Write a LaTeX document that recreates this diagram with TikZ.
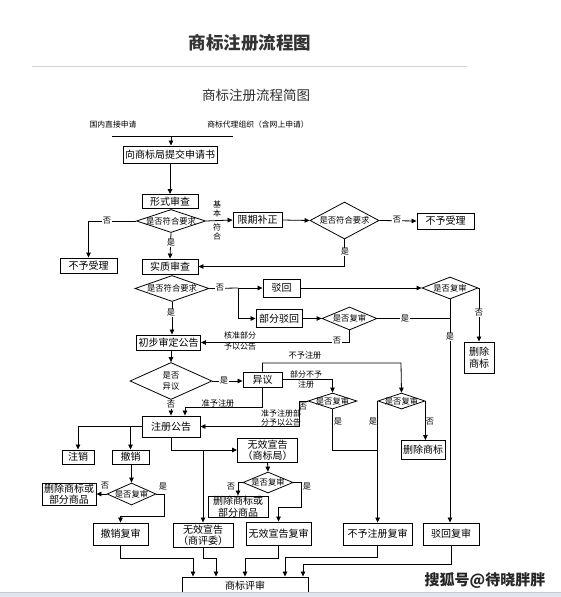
\documentclass[tikz,border=0pt]{standalone}
\usepackage{fontspec}
\setmainfont{Noto Sans CJK SC}
\usetikzlibrary{shapes.geometric,arrows.meta}
\definecolor{titlec}{HTML}{333333}
\definecolor{rulec}{HTML}{D6D6D6}
\definecolor{stripc}{HTML}{E1E6EC}
\definecolor{stripl}{HTML}{C5CCD4}
\tikzset{
  wh/.style 2 args={minimum width=#1, minimum height=#2},
  box/.style={draw, line width=0.9pt, inner sep=0pt, align=center, font=\fontsize{10}{11.5}\selectfont},
  dia/.style={draw, diamond, inner sep=0pt, line width=0.8pt, font=\fontsize{8.3}{9.5}\selectfont},
  lbl/.style={inner sep=0.5pt, align=center, font=\fontsize{8.2}{9.5}\selectfont},
  onl/.style={lbl, fill=white},
  ln/.style={line width=0.8pt},
  arr/.style={ln, -{Triangle[length=5pt,width=4.5pt]}}
}
\begin{document}
\begin{tikzpicture}[x=1pt,y=-1pt]
\useasboundingbox (0,0) rectangle (561,597);
% titles
\node[text=titlec, font=\fontsize{17.5}{20}\selectfont\bfseries] (title) at (250,43) {商标注册流程图};
\draw[rulec, line width=1pt] (32,66) -- (467,66);
\node[text=titlec!90!black, font=\fontsize{13.5}{15}\selectfont] (sub) at (256,95) {商标注册流程简图};
% sources
\node[lbl, font=\fontsize{7.8}{9}\selectfont] (src1) at (113,125) {国内直接申请};
\node[lbl, font=\fontsize{7.8}{9}\selectfont] (src2) at (258,125) {商标代理组织（含网上申请）};
\coordinate (hl) at (112,136); \coordinate (hr) at (233,136); \coordinate (hm) at (171,136);
% nodes
\node[box, wh={94}{17}] (submit) at (170,154.5) {向商标局提交申请书};
\node[box, wh={56}{14}] (formal) at (170,201.5) {形式审查};
\node[dia, wh={69}{23}] (d1) at (171,221) {\makebox[0pt]{是否符合要求}};
\node[box, wh={57}{15}] (reject1) at (88.5,265.5) {不予受理};
\node[box, wh={56}{15}] (subst) at (170,266.5) {实质审查};
\node[box, wh={49}{15}] (correct) at (257.5,220) {限期补正};
\node[dia, wh={69}{37}] (d2) at (344.5,220.5) {\makebox[0pt]{是否符合要求}};
\node[box, wh={57}{16}] (reject2) at (445.5,221) {不予受理};
\node[dia, wh={74}{26}] (d3) at (172,288.5) {\makebox[0pt]{是否符合要求}};
\node[box, wh={37}{18}] (refuse) at (281.5,288) {驳回};
\node[box, wh={46}{18}] (partial) at (279,318.5) {部分驳回};
\node[dia, wh={55}{23}] (d4) at (349.5,318.5) {\makebox[0pt]{是否复审}};
\node[dia, wh={56}{22}] (d5) at (450,288) {\makebox[0pt]{是否复审}};
\node[box, wh={30}{31}, font=\fontsize{10}{12}\selectfont] (del1) at (479,357.5) {删除\\商标};
\node[box, wh={64}{15}] (prelim) at (168.5,342.5) {初步审定公告};
\node[dia, wh={82}{37}] (d6) at (171,381) {\makebox[0pt]{\shortstack{是否\\[1pt]异议}}};
\node[box, wh={39}{15}] (objection) at (262.5,379.5) {异议};
\node[dia, wh={49}{16}] (d7) at (332.5,401) {\makebox[0pt]{是否复审}};
\node[dia, wh={47}{16}] (d8) at (401.5,401) {\makebox[0pt]{是否复审}};
\node[box, wh={44}{19}] (del2) at (423,450) {删除商标};
\node[box, wh={58}{21}] (reg) at (171,426.5) {注册公告};
\node[box, wh={32}{14}] (cancel) at (78,457) {注销};
\node[box, wh={37}{14}] (revoke) at (130.5,457) {撤销};
\node[dia, wh={49}{22}] (d9) at (131.5,494) {\makebox[0pt]{是否复审}};
\node[box, wh={54}{22}] (del3) at (69,494) {删除商标或\\部分商品};
\node[box, wh={55}{22}] (revrev) at (120.5,534) {撤销复审};
\node[box, wh={60}{24}] (inv1) at (267.5,450) {无效宣告\\（商标局）};
\node[dia, wh={50}{21}] (d10) at (268,482.5) {\makebox[0pt]{是否复审}};
\node[box, wh={60}{21}, fill=white] (del4) at (238,506.5) {删除商标或\\部分商品};
\node[box, wh={65}{23}] (invrev) at (278.5,533.5) {无效宣告复审};
\node[box, wh={60}{24}] (inv2) at (203,535) {无效宣告\\（商评委）};
\node[box, wh={69}{22}] (nreg) at (377.5,534) {不予注册复审};
\node[box, wh={56}{22}] (refrev) at (451,534) {驳回复审};
\node[box, wh={126}{18}] (board) at (245,586) {商标评审};
% coordinates
\coordinate (j1) at (238,288);
\coordinate (j2) at (401,363);
\coordinate (j3) at (185,407);
\coordinate (j4) at (299,401);
\coordinate (j5) at (378,450);
\coordinate (j6) at (78,426.5);
\coordinate (j7) at (164,516);
\coordinate (j9) at (203,450);
\coordinate (j10) at (301,507);
\coordinate (b1) at (193,558);
\coordinate (b2) at (216,558);
\coordinate (b3) at (245,558);
\coordinate (b4) at (285,557);
\coordinate (b5) at (303,564);
% connectors
\draw[ln] (hl) -- (hr);
\draw[arr] (hm) -- (hm |- submit.north);
\draw[arr] (submit) -- (formal);
\draw[arr] (d1.west) -| (reject1.north);
\draw[arr] (d1.south) -- (subst.north);
\draw[arr] (d1.east) -- (correct.west);
\draw[arr] (correct.east) -- (d2.west);
\draw[arr] (d2.east) -- (reject2.west);
\draw[arr] (d2.south) |- (subst.east);
\draw[ln] (d3.east) -- (j1);
\draw[arr] (j1) -- (refuse.west);
\draw[arr] (j1) |- (partial.west);
\draw[arr] (partial.east) -- (d4.west);
\draw[arr] (refuse.east) -- (d5.west);
\draw[arr] (d5.east) -| (del1.north);
\draw[arr] (d4.south) |- (prelim.east);
\draw[ln] (d4.east) -- (d4.east -| d5.south);
\draw[arr] (d5.south) -- (d5.south |- refrev.north);
\draw[arr] (d3.south) -- (d3.south |- prelim.north);
\draw[arr] (d6.north |- prelim.south) -- (d6.north);
\draw[arr] (d6.east) -- (d6.east -| objection.west);
\draw[arr] (objection.north) |- (j2) -- (d8.north);
\draw[arr] (objection.east) -| (d7.north);
\draw[arr] (objection.south) |- (j3) -- (j3 |- reg.north);
\draw[arr] (d6.south) -- (d6.south |- reg.north);
\draw[arr] (d7.west) -- (j4) |- (reg.east);
\draw[ln] (d7.south) |- (j5);
\draw[arr] (d8.west) -- (d8.west |- nreg.north);
\draw[arr] (d8.east) -- (d8.east |- del2.north);
\draw[ln] (reg.west) -- (j6);
\draw[arr] (j6) -- (cancel.north);
\draw[arr] (reg.west -| revoke.north) -- (revoke.north);
\draw[arr] (d9.north |- revoke.south) -- (d9.north);
\draw[arr] (d9.west) -- (del3.east);
\draw[arr] (d9.east) -| (j7) -| (revrev.north);
\draw[arr] (reg.south) |- (inv1.west);
\draw[arr] (j9) -- (inv2.north);
\draw[arr] (inv1.south) -- (d10.north);
\draw[arr] (d10.west) -| (del4.north);
\draw[arr] (d10.east) -| (j10) -| (invrev.north);
\draw[arr] (revrev.south) |- (b1) -- (b1 |- board.north);
\draw[arr] (inv2.south) |- (b2) -- (b2 |- board.north);
\draw[arr] (invrev.south) |- (b3) -- (b3 |- board.north);
\draw[arr] (nreg.south) |- (b4) -- (b4 |- board.north);
\draw[arr] (refrev.south) |- (b5) -- (b5 |- board.north);
% labels
\node[onl] (l1) at (107,221) {否};
\node[onl] (l2) at (171,243) {是};
\node[onl, font=\fontsize{8}{9}\selectfont] (l3a) at (217,209) {基\\本};
\node[onl, font=\fontsize{8}{9}\selectfont] (l3b) at (217,232) {符\\合};
\node[onl] (l4) at (397,220) {否};
\node[onl] (l5) at (345,252) {是};
\node[onl] (l6) at (220,288) {否};
\node[onl] (l7) at (171,313) {是};
\node[onl] (l8) at (337,341) {否};
\node[onl] (l9) at (405,318.5) {是};
\node[onl] (l10) at (479,313) {否};
\node[onl] (l11) at (450,337) {是};
\node[lbl, font=\fontsize{8}{10.5}\selectfont] (l12) at (240,341) {核准部分\\予以公告};
\node[onl] (l13) at (224,381) {是};
\node[onl] (l14) at (171,405) {否};
\node[lbl] (l15) at (305,355) {不予注册};
\node[lbl, font=\fontsize{8}{10.5}\selectfont] (l16) at (306,379.5) {部分不予\\注册};
\node[lbl] (l17) at (218,403) {准予注册};
\node[lbl, font=\fontsize{8}{9.5}\selectfont] (l18) at (281,418) {准予注册部\\分予以公告};
\node[lbl] (l19) at (303,407) {否};
\node[lbl] (l20) at (338,422) {是};
\node[lbl] (l21) at (373,422) {是};
\node[lbl] (l22) at (430,422) {否};
\node[lbl] (l23) at (105,486) {否};
\node[lbl] (l24) at (163,487) {是};
\node[lbl] (l25) at (231,487) {否};
\node[lbl] (l26) at (307,487) {是};
% watermark and bottom strip
\node[text=black!85, font=\fontsize{15}{17}\selectfont\bfseries] (wm) at (485,580) {搜狐号@待晓胖胖};
\fill[stripc] (0,592.5) rectangle (561,597);
\draw[stripl, line width=0.8pt] (0,592.5) -- (561,592.5);
\end{tikzpicture}
\end{document}
